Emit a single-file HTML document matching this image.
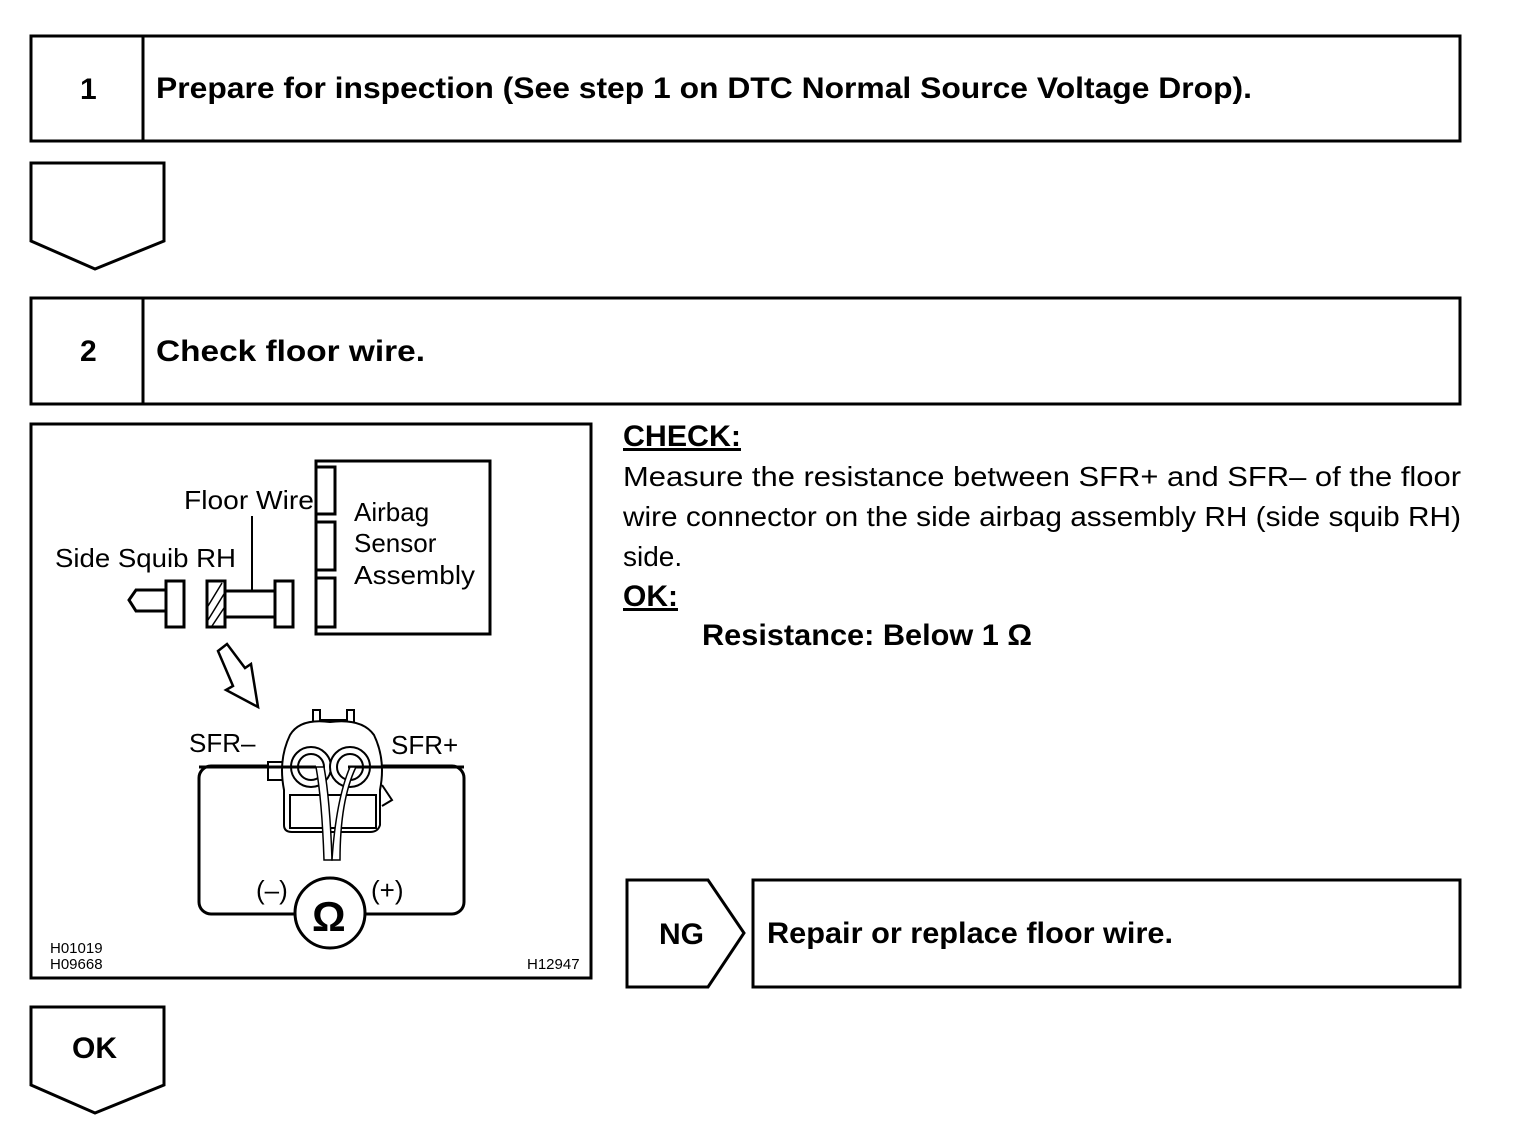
<!DOCTYPE html>
<html><head><meta charset="utf-8"><style>
html,body{margin:0;padding:0;background:#fff;}
svg{display:block;}
text{font-family:"Liberation Sans",Arial,sans-serif;fill:#000;}
.b{font-weight:bold;font-size:30px;}
.n{font-size:28px;}
.d{font-size:26px;}
.s{font-size:15px;}
</style></head><body>
<svg width="1520" height="1144" viewBox="0 0 1520 1144" xmlns="http://www.w3.org/2000/svg">
<g fill="none" stroke="#000" stroke-width="3">
<rect x="31" y="36" width="1429" height="105"/>
<line x1="143" y1="36" x2="143" y2="141"/>
<path d="M31 163 H164 V241 L95 269 L31 241 Z"/>
<rect x="31" y="298" width="1429" height="106"/>
<line x1="143" y1="298" x2="143" y2="404"/>
<rect x="31" y="424" width="560" height="554"/>
<path d="M627 880 H708 L744 933 L708 987 H627 Z"/>
<rect x="753" y="880" width="707" height="107"/>
<path d="M31 1007 H164 V1085 L95 1113 L31 1085 Z"/>
</g>
<text class="b" x="80" y="99">1</text>
<text class="b" x="156" y="98" textLength="1096" lengthAdjust="spacingAndGlyphs">Prepare for inspection (See step 1 on DTC Normal Source Voltage Drop).</text>
<text class="b" x="80" y="361">2</text>
<text class="b" x="156" y="361" textLength="269" lengthAdjust="spacingAndGlyphs">Check floor wire.</text>
<text class="b" x="72" y="1058">OK</text>
<text class="b" x="659" y="944">NG</text>
<text class="b" x="767" y="943" textLength="406" lengthAdjust="spacingAndGlyphs">Repair or replace floor wire.</text>

<text class="b" x="623" y="446" text-decoration="underline" textLength="118" lengthAdjust="spacingAndGlyphs">CHECK:</text>
<text class="n" x="623" y="486" textLength="838" lengthAdjust="spacingAndGlyphs">Measure the resistance between SFR+ and SFR– of the floor</text>
<text class="n" x="623" y="526" textLength="838" lengthAdjust="spacingAndGlyphs">wire connector on the side airbag assembly RH (side squib RH)</text>
<text class="n" x="623" y="566">side.</text>
<text class="b" x="623" y="606" text-decoration="underline">OK:</text>
<text class="b" x="702" y="645" textLength="330" lengthAdjust="spacingAndGlyphs">Resistance: Below 1 Ω</text>

<g fill="none" stroke="#000" stroke-width="3">
<rect x="316" y="461" width="174" height="173"/>
<rect x="316" y="467" width="19" height="47"/>
<rect x="316" y="522" width="19" height="48"/>
<rect x="316" y="578" width="19" height="49"/>
<path d="M165 590 H136 L129 600 L136 611 H165"/>
<rect x="166" y="581" width="18" height="46"/>
<rect x="207" y="581" width="18" height="46"/>
<line x1="208" y1="620" x2="224" y2="594" stroke-width="1.5"/>
<line x1="208" y1="606" x2="222" y2="583" stroke-width="1.5"/>
<line x1="212" y1="626" x2="224" y2="608" stroke-width="1.5"/>
<path d="M226 591 H275 M226 617 H275"/>
<rect x="275" y="581" width="18" height="46"/>
<line x1="252" y1="516" x2="252" y2="591" stroke-width="2"/>
<path d="M218 651 L227 644 L245 668 L251 664 L258 707 L226 690 L233 686 Z" stroke-width="2.5"/>
<rect x="199" y="766" width="265" height="148" rx="12"/>
<circle cx="330" cy="913" r="35" fill="#fff"/>
</g>
<g fill="#fff" stroke="#000" stroke-width="2">
<path d="M313 722 V710 H320 V720 H347 V710 H354 V722"/>
<path d="M268 762 H283 V780 H268 Z"/>
<path d="M290 735 Q300 718 330 722 Q362 718 374 735 Q386 760 380 790 L380 825 Q378 832 370 832 H292 Q284 832 284 825 L284 790 Q278 760 290 735 Z"/>
<path d="M290 795 H376 V828 H290 Z"/>
<circle cx="311" cy="767" r="20"/>
<circle cx="350" cy="767" r="20"/>
<circle cx="311" cy="767" r="13"/>
<circle cx="350" cy="767" r="13"/>
<path d="M382 785 L392 800 L382 806"/>
</g>
<g stroke="#000" stroke-width="3"><line x1="199" y1="767" x2="316" y2="767"/><line x1="348" y1="767" x2="464" y2="767"/></g>
<g fill="#fff" stroke="#000" stroke-width="1.5">
<path d="M316 767 Q322 800 324 860 L332 860 Q330 800 324 767 Z"/>
<path d="M350 767 Q336 800 332 860 L340 860 Q340 800 356 767 Z"/>
</g>
<text class="d" x="184" y="509" textLength="130" lengthAdjust="spacingAndGlyphs">Floor Wire</text>
<text class="d" x="55" y="567" textLength="181" lengthAdjust="spacingAndGlyphs">Side Squib RH</text>
<text class="d" x="354" y="521">Airbag</text>
<text class="d" x="354" y="552">Sensor</text>
<text class="d" x="354" y="584" textLength="121" lengthAdjust="spacingAndGlyphs">Assembly</text>
<text class="d" x="189" y="752">SFR–</text>
<text class="d" x="391" y="754">SFR+</text>
<text class="d" x="256" y="899">(–)</text>
<text class="d" x="371" y="899">(+)</text>
<text x="312" y="931" font-size="42" font-weight="bold" font-family="Liberation Sans">Ω</text>
<text class="s" x="50" y="953">H01019</text>
<text class="s" x="50" y="969">H09668</text>
<text class="s" x="527" y="969">H12947</text>
</svg>
</body></html>
